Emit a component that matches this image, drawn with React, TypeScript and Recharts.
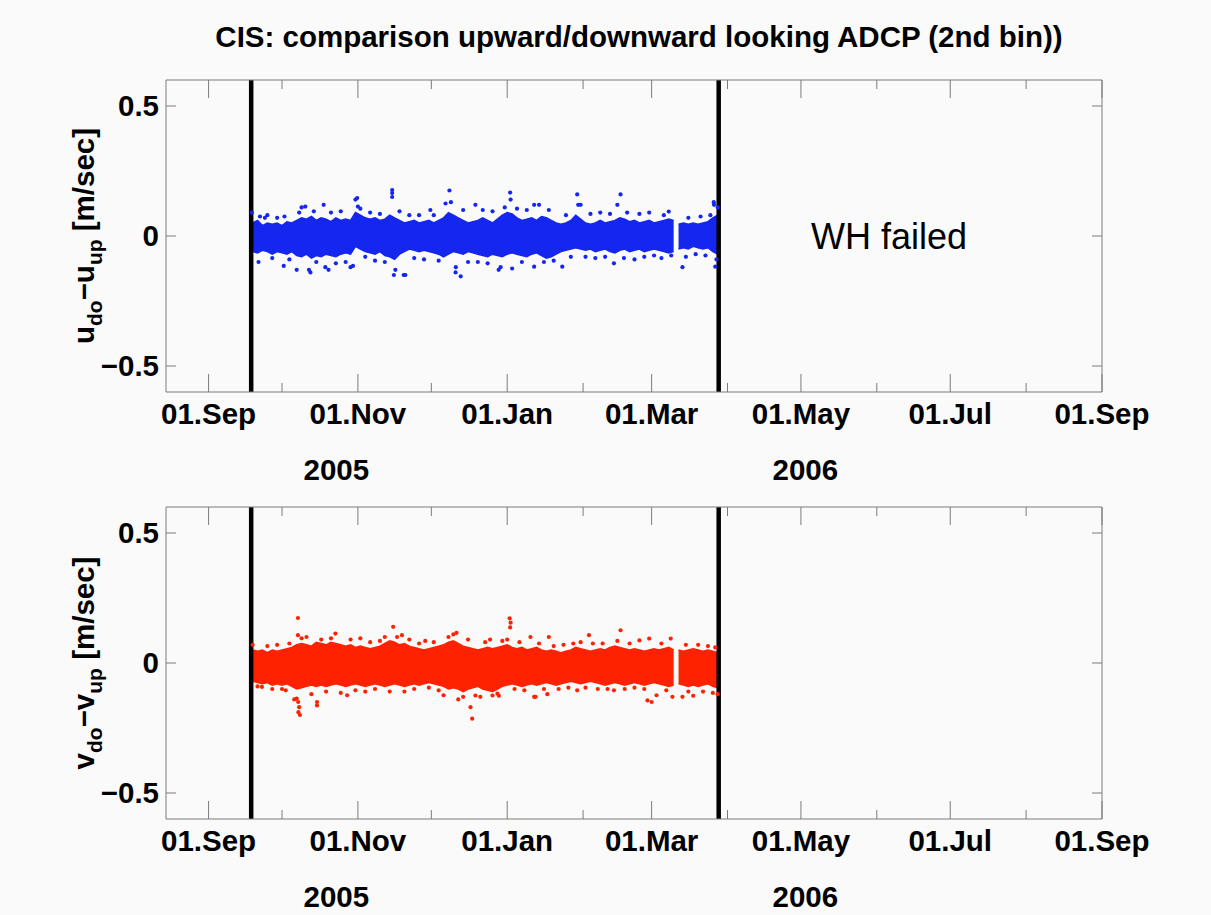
import { ComposedChart, Area, Scatter, XAxis, YAxis, ReferenceLine, ReferenceDot } from "recharts";

const FONT = '"Liberation Sans", Arial, Helvetica, sans-serif';
const FRAME = "#7c7c7c";
const BLUE = "#1526ee";
const RED = "#ff2200";

// x axis: days since 01.Sep 2005
const xDomain = [-17.4, 365];
const majorDays = [0, 61, 122, 181, 242, 303, 365];
const majorLabels = ["01.Sep", "01.Nov", "01.Jan", "01.Mar", "01.May", "01.Jul", "01.Sep"];
const minorDays = [30, 91, 153, 212, 273, 334];
const yearDays = [52.2, 243.8];
const yearLabels = ["2005", "2006"];
const yTicks = [-0.5, 0, 0.5];
const yTickLabels = ["\u22120.5", "0", "0.5"];

// deployment limits (thick black lines)
const limitDays = [17.4, 208.4];

// dense core of the scatter cloud, every 2 days (null = data gap)
const coreDays = [
  18, 20, 22, 24, 26, 28, 30, 32, 34, 36, 38, 40, 42, 44, 46, 48, 50, 52, 54, 56, 58, 60, 62, 64,
  66, 68, 70, 72, 74, 76, 78, 80, 82, 84, 86, 88, 90, 92, 94, 96, 98, 100, 102, 104, 106, 108, 110,
  112, 114, 116, 118, 120, 122, 124, 126, 128, 130, 132, 134, 136, 138, 140, 142, 144, 146, 148,
  150, 152, 154, 156, 158, 160, 162, 164, 166, 168, 170, 172, 174, 176, 178, 180, 182, 184, 186,
  188, 190, 191, 192, 194, 196, 198, 200, 202, 204, 206, 208,
];
const uHi = [
  0.05, 0.06, 0.04, 0.05, 0.045, 0.05, 0.04, 0.055, 0.05, 0.06, 0.07, 0.065, 0.075, 0.06, 0.07, 0.065,
  0.055, 0.07, 0.06, 0.065, 0.06, 0.09, 0.08, 0.07, 0.065, 0.07, 0.06, 0.065, 0.08, 0.07, 0.06, 0.05,
  0.055, 0.06, 0.05, 0.055, 0.06, 0.05, 0.06, 0.07, 0.09, 0.08, 0.07, 0.06, 0.05, 0.055, 0.06, 0.07,
  0.06, 0.05, 0.065, 0.08, 0.09, 0.085, 0.07, 0.06, 0.065, 0.07, 0.06, 0.075, 0.07, 0.06, 0.05, 0.045,
  0.05, 0.06, 0.08, 0.065, 0.05, 0.045, 0.05, 0.06, 0.05, 0.055, 0.06, 0.07, 0.065, 0.055, 0.06, 0.05,
  0.055, 0.06, 0.05, 0.055, 0.06, 0.065, 0.06, null, 0.045, 0.05, 0.045, 0.05, 0.045, 0.05, 0.055,
  0.07, 0.08,
];
const uLo = [
  -0.06, -0.065, -0.055, -0.06, -0.07, -0.06, -0.065, -0.07, -0.06, -0.075, -0.08, -0.07, -0.085,
  -0.075, -0.08, -0.07, -0.075, -0.08, -0.07, -0.065, -0.07, -0.04, -0.05, -0.06, -0.065, -0.07,
  -0.06, -0.075, -0.08, -0.09, -0.07, -0.06, -0.05, -0.055, -0.06, -0.055, -0.06, -0.065, -0.07,
  -0.08, -0.07, -0.06, -0.065, -0.07, -0.06, -0.065, -0.07, -0.075, -0.08, -0.07, -0.075, -0.08,
  -0.07, -0.065, -0.07, -0.075, -0.08, -0.07, -0.065, -0.075, -0.085, -0.08, -0.07, -0.06, -0.055,
  -0.05, -0.045, -0.05, -0.055, -0.05, -0.06, -0.055, -0.05, -0.06, -0.065, -0.055, -0.05, -0.06,
  -0.055, -0.05, -0.06, -0.055, -0.05, -0.055, -0.06, -0.065, -0.06, null, -0.05, -0.045, -0.05,
  -0.04, -0.045, -0.05, -0.045, -0.06, -0.07,
];
const vHi = [
  0.05, 0.045, 0.05, 0.04, 0.05, 0.045, 0.05, 0.055, 0.06, 0.07, 0.075, 0.07, 0.065, 0.08, 0.075, 0.07,
  0.08, 0.075, 0.07, 0.065, 0.07, 0.06, 0.065, 0.06, 0.055, 0.06, 0.065, 0.075, 0.085, 0.08, 0.07,
  0.075, 0.065, 0.06, 0.055, 0.05, 0.055, 0.06, 0.065, 0.07, 0.08, 0.085, 0.075, 0.065, 0.06, 0.055,
  0.05, 0.055, 0.06, 0.055, 0.06, 0.065, 0.07, 0.06, 0.055, 0.06, 0.05, 0.055, 0.06, 0.05, 0.045,
  0.05, 0.045, 0.04, 0.045, 0.05, 0.06, 0.055, 0.05, 0.045, 0.05, 0.055, 0.05, 0.06, 0.065, 0.06,
  0.055, 0.05, 0.055, 0.05, 0.045, 0.05, 0.055, 0.05, 0.055, 0.06, 0.05, null, 0.05, 0.045, 0.05,
  0.055, 0.05, 0.045, 0.05, 0.045, 0.04,
];
const vLo = [
  -0.07, -0.075, -0.08, -0.075, -0.085, -0.08, -0.085, -0.08, -0.09, -0.1, -0.095, -0.09, -0.085,
  -0.09, -0.085, -0.09, -0.085, -0.08, -0.085, -0.09, -0.085, -0.08, -0.085, -0.09, -0.085, -0.08,
  -0.085, -0.09, -0.085, -0.08, -0.085, -0.09, -0.085, -0.08, -0.085, -0.08, -0.075, -0.08, -0.085,
  -0.09, -0.1, -0.095, -0.1, -0.11, -0.1, -0.095, -0.09, -0.1, -0.105, -0.11, -0.1, -0.09, -0.085,
  -0.08, -0.085, -0.09, -0.085, -0.08, -0.085, -0.08, -0.075, -0.08, -0.085, -0.08, -0.075, -0.07,
  -0.075, -0.08, -0.075, -0.07, -0.075, -0.08, -0.085, -0.08, -0.075, -0.08, -0.085, -0.08, -0.075,
  -0.08, -0.085, -0.08, -0.075, -0.08, -0.085, -0.09, -0.085, null, -0.08, -0.085, -0.09, -0.085,
  -0.09, -0.085, -0.08, -0.09, -0.095,
];

// scattered points outside the dense core: [day, value]
const uDots: [number, number][] = [
  [17.7, 0.09], [20.4, -0.1], [21, 0.075], [23, 0.07], [24, 0.08], [26, -0.085], [28, 0.07],
  [30.7, -0.115], [31, 0.075], [33, -0.09], [36, -0.13], [37, 0.09], [38, 0.11], [39.5, 0.113],
  [41, -0.13], [41.6, -0.14], [43, 0.095], [44, -0.1], [47, 0.12], [47.7, -0.12], [49, -0.13],
  [50, 0.09], [52, -0.105], [54, 0.095], [56, -0.1], [58, -0.12], [59, -0.115], [60, 0.14],
  [60.7, 0.146], [61, 0.113], [62, 0.105], [64, -0.08], [66, 0.09], [68, -0.095], [70, 0.085],
  [72, -0.1], [75, 0.177], [75, 0.15], [75, 0.165], [75.7, -0.15], [76.3, -0.13], [78, 0.095],
  [79.7, -0.15], [80.4, -0.15], [82, 0.08], [84, -0.085], [86, 0.08], [88, -0.09], [90.6, 0.1],
  [92, 0.08], [94, -0.095], [96.8, 0.125], [98.4, 0.175], [99, 0.13], [100.9, -0.14], [101, -0.12],
  [103, -0.155], [104, 0.1], [106, -0.1], [109, 0.12], [110, -0.1], [112, 0.1], [114, -0.105],
  [116, 0.095], [118.5, -0.13], [119.3, -0.12], [121, 0.11], [123.2, 0.167], [123.4, 0.14],
  [124, -0.125], [126, 0.105], [128, -0.1], [130, 0.1], [133, -0.118], [133, 0.12], [135, 0.12],
  [137, -0.1], [139, 0.1], [141, -0.095], [144.5, -0.118], [146, 0.08], [148, -0.08], [150.6, 0.16],
  [151, 0.12], [152, 0.12], [154, -0.08], [156, 0.085], [158, -0.085], [160, 0.09], [162, -0.08],
  [164, 0.085], [165.6, -0.105], [167, 0.12], [168.3, 0.16], [169.7, -0.085], [171, 0.09],
  [174, -0.09], [176, 0.085], [178, -0.08], [180, 0.09], [182, -0.075], [185, -0.085], [186, 0.08],
  [188, 0.094], [189, -0.075], [193.6, -0.12], [195, -0.08], [196, 0.07], [199, -0.07], [201, 0.075],
  [203, -0.075], [205, 0.08], [206.4, 0.13], [206.5, 0.12], [207, -0.118], [207.5, -0.09], [208, 0.11],
];
const vDots: [number, number][] = [
  [18, 0.07], [20, -0.09], [21.8, -0.092], [24, 0.065], [26, -0.1], [28, 0.07], [30, -0.1],
  [31.5, -0.105], [33, 0.075], [35, -0.14], [36, -0.137], [36.5, 0.173], [36.5, 0.107], [36.6, -0.15],
  [36.7, -0.189], [37.3, -0.2], [37, -0.17], [38, 0.095], [40, 0.1], [42, -0.12], [44.3, -0.15],
  [44.3, -0.163], [46, 0.09], [48, -0.11], [50, 0.095], [51.8, 0.113], [54, -0.115], [56.6, -0.124],
  [58, 0.09], [60, -0.105], [62, 0.095], [64, -0.11], [66, 0.08], [68, -0.1], [70, 0.085], [72, 0.1],
  [74, -0.11], [75.4, 0.139], [77, 0.1], [79, 0.107], [80, -0.11], [82, 0.09], [84, -0.1], [86, 0.075],
  [88.5, 0.085], [90, -0.095], [92, 0.08], [94, -0.105], [96, -0.124], [98, 0.1], [100, 0.11],
  [101.3, 0.116], [102, -0.14], [104, -0.13], [106, 0.09], [107, -0.17], [107.7, -0.214],
  [109, -0.125], [111, -0.13], [113, 0.08], [115, 0.09], [116, -0.125], [118, -0.118],
  [118.6, -0.126], [120, 0.085], [122, 0.09], [123, 0.172], [123.2, 0.137], [123.4, 0.155],
  [125, -0.1], [127, 0.08], [129, -0.105], [131.5, 0.1], [133, -0.13], [133.6, -0.13], [135, 0.075],
  [137, -0.1], [138.4, -0.12], [139, 0.1], [141, 0.065], [143, -0.1], [145, 0.07], [147, -0.095],
  [149, 0.075], [150.6, -0.105], [152, 0.08], [154, -0.095], [155.4, 0.107], [157, 0.075],
  [159, -0.1], [161, 0.075], [163, -0.1], [165.6, -0.105], [167, 0.085], [168.3, 0.126], [170, -0.1],
  [172, 0.075], [174, -0.095], [176, 0.087], [178, -0.1], [179.3, -0.144], [180, 0.094], [181, -0.15],
  [183, -0.124], [185, 0.075], [187, -0.105], [188.8, 0.094], [189.5, -0.13], [193.6, -0.13],
  [195, 0.07], [196, -0.11], [198, -0.126], [200, 0.07], [202, -0.11], [204, 0.065], [206, -0.115],
  [207, 0.06], [208, -0.12],
];

const failNote = { day: 278, v: 0, text: "WH failed" };
const title = "CIS: comparison upward/downward looking ADCP (2nd bin))";

const toCore = (hi: (number | null)[], lo: (number | null)[]) =>
  coreDays.map((day, i) => ({ day, band: hi[i] == null ? null : [lo[i], hi[i]] }));
const toDots = (pts: [number, number][]) => pts.map(([day, v]) => ({ day, v }));

const txt = { fontFamily: FONT, fontWeight: "bold" as const, fontSize: 29.5, fill: "#000" };

function BottomTick(props: any) {
  const { x, y, payload } = props;
  const yi = yearDays.indexOf(payload.value);
  if (yi >= 0) {
    return (
      <text x={x} y={y + 88} textAnchor="middle" {...txt}>
        {yearLabels[yi]}
      </text>
    );
  }
  const mi = majorDays.indexOf(payload.value);
  return (
    <g>
      <line x1={x} x2={x} y1={y} y2={y - (mi >= 0 ? 18 : 9)} stroke={FRAME} />
      {mi >= 0 && (
        <text x={x} y={y + 32} textAnchor="middle" {...txt}>
          {majorLabels[mi]}
        </text>
      )}
    </g>
  );
}

function TopTick(props: any) {
  const { x, y, payload } = props;
  const major = majorDays.includes(payload.value);
  return <line x1={x} x2={x} y1={y} y2={y + (major ? 18 : 9)} stroke={FRAME} />;
}

function LeftTick(props: any) {
  const { x, y, payload } = props;
  const i = yTicks.indexOf(payload.value);
  return (
    <g>
      <line x1={x} x2={x + 10} y1={y} y2={y} stroke={FRAME} />
      <text x={x - 7} y={y + 10} textAnchor="end" {...txt}>
        {yTickLabels[i]}
      </text>
    </g>
  );
}

function RightTick(props: any) {
  const { x, y } = props;
  return <line x1={x} x2={x - 10} y1={y} y2={y} stroke={FRAME} />;
}

const Dot = (p: any) => <circle cx={p.cx} cy={p.cy} r={2.1} fill={p.fill} />;

function Panel({
  core,
  dots,
  color,
  height,
  note,
}: {
  core: { day: number; band: (number | null)[] | null }[];
  dots: { day: number; v: number }[];
  color: string;
  height: number;
  note?: boolean;
}) {
  return (
    <ComposedChart
      width={1211}
      height={height}
      data={core}
      margin={{ top: 79, right: 108, bottom: height - 393, left: 165 }}
    >
      <XAxis
        dataKey="day"
        type="number"
        domain={xDomain}
        allowDataOverflow
        ticks={[...majorDays, ...minorDays, ...yearDays]}
        interval={0}
        height={1}
        tickSize={0}
        tickMargin={0}
        tickLine={false}
        axisLine={{ stroke: FRAME }}
        tick={BottomTick}
      />
      <XAxis
        xAxisId="top"
        orientation="top"
        dataKey="day"
        type="number"
        domain={xDomain}
        allowDataOverflow
        ticks={[...majorDays, ...minorDays]}
        interval={0}
        height={1}
        tickSize={0}
        tickMargin={0}
        tickLine={false}
        axisLine={{ stroke: FRAME }}
        tick={TopTick}
      />
      <YAxis
        type="number"
        domain={[-0.6, 0.6]}
        allowDataOverflow
        ticks={yTicks}
        interval={0}
        width={1}
        tickSize={0}
        tickMargin={0}
        tickLine={false}
        axisLine={{ stroke: FRAME }}
        tick={LeftTick}
      />
      <YAxis
        yAxisId="right"
        orientation="right"
        type="number"
        domain={[-0.6, 0.6]}
        allowDataOverflow
        ticks={yTicks}
        interval={0}
        width={1}
        tickSize={0}
        tickMargin={0}
        tickLine={false}
        axisLine={{ stroke: FRAME }}
        tick={RightTick}
      />
      <Area
        dataKey="band"
        type="linear"
        stroke={color}
        strokeWidth={1.5}
        fill={color}
        fillOpacity={1}
        connectNulls={false}
        dot={false}
        activeDot={false}
        isAnimationActive={false}
      />
      <Scatter data={dots} dataKey="v" fill={color} shape={Dot} isAnimationActive={false} />
      {limitDays.map((d) => (
        <ReferenceLine key={d} x={d} stroke="#000" strokeWidth={4.5} />
      ))}
      {note && (
        <ReferenceDot
          x={failNote.day}
          y={failNote.v}
          r={1}
          fill="none"
          stroke="none"
          label={{
            value: failNote.text,
            position: "center",
            fontFamily: FONT,
            fontSize: 36,
            fill: "#000",
          }}
        />
      )}
    </ComposedChart>
  );
}

function YLabel({ x, y, sym }: { x: number; y: number; sym: string }) {
  return (
    <text transform={`translate(${x},${y}) rotate(-90)`} textAnchor="middle" {...txt}>
      {sym}
      <tspan fontSize={21} dy={8}>
        do
      </tspan>
      <tspan dy={-8}>{"\u2212" + sym}</tspan>
      <tspan fontSize={21} dy={8}>
        up
      </tspan>
      <tspan dy={-8}>{" [m/sec]"}</tspan>
    </text>
  );
}

export default function App() {
  return (
    <div
      style={{
        position: "absolute",
        left: 0,
        top: 0,
        width: 1211,
        height: 915,
        background: "#fafafa",
        overflow: "hidden",
      }}
    >
      <div style={{ position: "absolute", left: 0, top: 0 }}>
        <Panel core={toCore(uHi, uLo)} dots={toDots(uDots)} color={BLUE} height={500} note />
      </div>
      <div style={{ position: "absolute", left: 0, top: 427 }}>
        <Panel core={toCore(vHi, vLo)} dots={toDots(vDots)} color={RED} height={488} />
      </div>
      <svg
        width={1211}
        height={915}
        style={{ position: "absolute", left: 0, top: 0, pointerEvents: "none" }}
      >
        <text x={639} y={47} textAnchor="middle" {...txt}>
          {title}
        </text>
        <YLabel x={94} y={236} sym="u" />
        <YLabel x={94} y={663} sym="v" />
      </svg>
    </div>
  );
}
